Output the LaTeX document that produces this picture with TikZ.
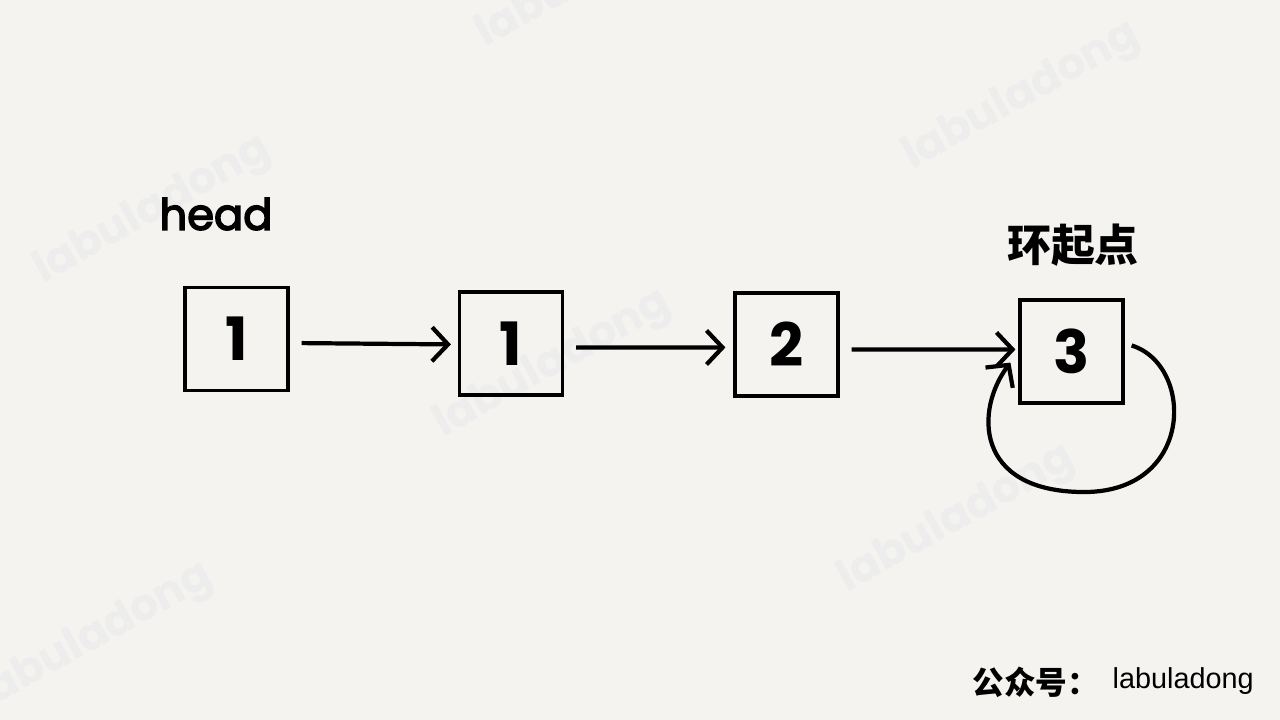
\documentclass[tikz,border=0pt]{standalone}
\usepackage{fontspec}
\usepackage{xcolor}
\usetikzlibrary{arrows.meta, positioning}
\setmainfont{Poppins}
\newfontfamily\handfont{Poppins}[FakeBold=3.5]
\newfontfamily\cjkfont{Noto Sans CJK SC}
\newfontfamily\arialfont{Liberation Sans}
\definecolor{paper}{HTML}{F5F3EF}

\begin{document}
\begin{tikzpicture}[
  box/.style={draw, line width=0.9pt, minimum width=1.03cm, minimum height=1.03cm, inner sep=0pt, font=\fontsize{17}{20}\selectfont\bfseries},
  arr/.style={-{Straight Barb[length=1.6mm, width=3.4mm]}, line width=1.2pt},
  wmark/.style={text=black!7, font=\fontsize{12.5}{14}\selectfont\bfseries, rotate=29}
]
  \useasboundingbox (0,0) rectangle (12.8,7.2);
  \fill[paper] (0,0) rectangle (12.8,7.2);
  % watermarks
  \node[wmark] (wm1) at (1.53,5.09) {labuladong};
  \node[wmark] (wm2) at (5.53,3.55) {labuladong};
  \node[wmark] (wm3) at (10.22,6.23) {labuladong};
  \node[wmark] (wm4) at (9.57,2.00) {labuladong};
  \node[wmark] (wm5) at (0.95,0.82) {labuladong};
  \node[wmark] (wm6) at (5.95,7.45) {labuladong};
  % list
  \node[box] (n1) at (2.365,3.81) {1};
  \node[box] (n2) at (5.11,3.765) {1};
  \node[box] (n3) at (7.865,3.755) {2};
  \node[box] (n4) at (10.715,3.685) {3};
  \node[font=\handfont\fontsize{12.3}{14}\selectfont] (head) at (2.16,5.06) {head};
  \node[font=\cjkfont\fontsize{12.5}{14}\selectfont\bfseries] (entry) at (10.73,4.75) {环起点};
  \draw[arr, shorten <=0.12cm, shorten >=0.07cm] ([yshift=-0.04cm]n1.east) -- ([yshift=-0.01cm]n2.west);
  \draw[arr, shorten <=0.12cm, shorten >=0.08cm] ([yshift=-0.04cm]n2.east) -- ([yshift=-0.03cm]n3.west);
  \draw[arr, shorten <=0.12cm, shorten >=0.03cm] ([yshift=-0.05cm]n3.east) -- ([yshift=0.02cm]n4.west);
  \draw[arr] ([shift={(0.07,0.06)}]n4.east) .. controls (11.95,3.55) and (11.95,2.25) .. (10.8,2.28)
    .. controls (9.75,2.3) and (9.75,3.1) .. ([shift={(-0.08,0.42)}]n4.south west);
  % footer
  \node[font=\cjkfont\fontsize{9}{10}\selectfont\bfseries, anchor=west, inner sep=0pt] (gzh) at (9.72,0.38) {公众号：};
  \node[font=\arialfont\fontsize{8.2}{10}\selectfont, anchor=west, inner sep=0pt] (name) at (11.12,0.39) {labuladong};
\end{tikzpicture}
\end{document}
